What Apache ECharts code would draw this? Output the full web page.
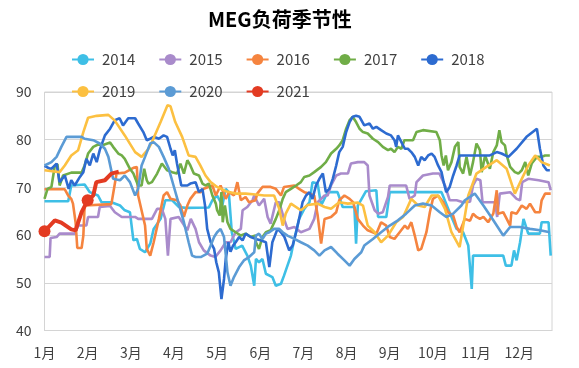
<!DOCTYPE html>
<html><head><meta charset="utf-8">
<script src="https://cdn.jsdelivr.net/npm/echarts@6/dist/echarts.min.js"></script>
<style>html,body{margin:0;padding:0;background:#fff}#c{width:579px;height:368px}</style>
</head><body><div id="c"></div>
<script>
// x = month position (0 = 1月1日), y = load rate (%)
var monthLabels = ['1月','2月','3月','4月','5月','6月','7月','8月','9月','10月','11月','12月'];
var years = ['2014','2015','2016','2017','2018','2019','2020','2021'];
var colors = ['#3ebfe6','#a98bcb','#f5843f','#70ad47','#2d6bd0','#fcc041','#5b9bd5','#e33b22'];

var s2014 = [[0,67.1],[0.55,67.1],[0.62,70.4],[0.93,70.6],[1.05,69],[1.24,68.3],[1.32,66.9],[1.55,66.9],[1.75,66.2],[1.86,65.2],[1.98,64.8],[2.06,58.9],[2.14,59.2],[2.21,57.1],[2.33,56.4],[2.45,58.2],[2.53,61.3],[2.69,63.4],[2.8,67.3],[2.96,67.3],[3.11,65.9],[3.27,65.7],[3.81,65.8],[3.89,67.3],[4.0,68.3],[4.12,66.2],[4.2,69.7],[4.27,69],[4.34,60.6],[4.43,57.1],[4.58,57.8],[4.7,55.7],[4.78,53.6],[4.86,49.4],[4.9,55],[4.97,54.3],[5.05,55],[5.13,51.9],[5.28,51.2],[5.36,49.4],[5.48,49.8],[5.55,51.5],[5.63,53.6],[5.71,55.7],[5.79,59.2],[5.9,63.4],[6.02,65.5],[6.14,66.9],[6.21,71.1],[6.33,70.8],[6.41,66.2],[6.56,69],[6.79,69],[6.91,65.9],[7.18,65.9],[7.22,58.2],[7.26,66.2],[7.45,69.2],[7.69,69.4],[7.73,63.8],[7.92,63.8],[8.0,69],[9.2,69],[9.4,64.5],[9.55,61.3],[9.7,60.6],[9.82,57.8],[9.9,48.7],[9.93,55.7],[10.63,55.7],[10.69,53.6],[10.82,53.6],[10.88,56.8],[10.94,54.7],[11.02,58.5],[11.1,63.4],[11.21,60.3],[11.48,60.3],[11.52,62.7],[11.68,62.7],[11.73,55.7]];
var s2015 = [[0,55.4],[0.12,55.4],[0.14,59.4],[0.28,59.6],[0.35,60.3],[0.7,60.3],[0.78,62],[0.97,62],[1.01,63.8],[1.24,63.8],[1.28,65.9],[1.52,66.1],[1.63,64.8],[1.79,63.8],[2.1,63.8],[2.17,63.4],[2.33,63.4],[2.49,63.4],[2.61,65.5],[2.72,65.5],[2.8,63.4],[2.86,55.7],[2.92,63.4],[3.11,63.8],[3.19,62.7],[3.31,61],[3.39,63.4],[3.5,61.3],[3.58,58.5],[3.69,56.8],[3.85,55.7],[3.96,55.4],[4.08,56.8],[4.2,58.5],[4.31,58.5],[4.43,60.6],[4.55,61.3],[4.59,65.2],[4.7,65.9],[4.82,67.3],[4.86,68.3],[4.97,66.2],[5.09,67.6],[5.17,63.8],[5.24,62.4],[5.36,66.9],[5.44,66.9],[5.55,63.4],[5.63,61.3],[5.79,61.7],[5.94,60.6],[6.14,61.3],[6.25,63.4],[6.33,66.9],[6.49,68.3],[6.56,68.3],[6.64,70.4],[6.76,72.5],[6.87,72.9],[7.03,72.9],[7.1,75],[7.26,75.3],[7.41,75.3],[7.49,74.6],[7.53,68.3],[7.65,65.2],[7.73,64.5],[7.84,64.8],[7.96,68],[8.0,70.4],[8.38,70.4],[8.46,67.6],[8.58,68.3],[8.62,71.1],[8.77,72.5],[9.0,72.9],[9.15,72.9],[9.28,70.4],[9.39,67.3],[9.55,67.3],[9.7,66.9],[9.86,67],[9.93,70.4],[10.01,71.8],[10.1,71.5],[10.15,66.9],[10.44,66.9],[10.49,63.8],[10.55,68.7],[10.79,69],[10.94,67.6],[11.02,67.3],[11.07,71.1],[11.21,71.8],[11.45,71.5],[11.68,71.1],[11.73,69.4]];
var s2016 = [[0,69.6],[0.47,69.6],[0.55,68.3],[0.62,67.6],[0.66,66.6],[0.72,62.7],[0.76,57.3],[0.86,57.3],[0.9,59.9],[0.93,66.2],[1.55,66.5],[1.67,72.9],[1.86,73.1],[2.06,74.1],[2.14,74.3],[2.17,68.3],[2.33,62],[2.37,57.1],[2.45,55.7],[2.53,58.5],[2.65,63.4],[2.76,68.3],[2.84,69],[2.92,67.6],[3.07,67.3],[3.15,66.2],[3.23,63.8],[3.31,66.2],[3.38,67.6],[3.5,69],[3.62,69],[3.69,69.7],[3.89,70.4],[3.97,68.3],[4.08,70.4],[4.2,67.6],[4.28,69],[4.39,68.3],[4.47,71.1],[4.55,67.3],[4.66,68],[4.74,66.9],[4.89,67.3],[4.93,68.7],[5.05,70.1],[5.24,70.1],[5.36,69.7],[5.48,68.3],[5.55,70.1],[5.79,70.4],[5.9,69.7],[6.02,69],[6.14,68.7],[6.25,68.3],[6.33,64.1],[6.41,58.2],[6.49,63.4],[6.64,63.8],[6.76,64.8],[6.83,67.3],[6.95,68.3],[7.07,67.6],[7.15,66.9],[7.26,63.4],[7.38,62],[7.49,61],[7.69,60.3],[7.8,62.7],[7.92,62],[8.0,59.6],[8.11,59.2],[8.23,60.6],[8.35,62],[8.42,61.3],[8.5,62.7],[8.58,59.9],[8.66,56.8],[8.73,57.1],[8.85,60.6],[8.93,64.8],[9.0,67.6],[9.12,68.3],[9.24,66.9],[9.35,64.8],[9.47,64.1],[9.55,61.7],[9.62,60.6],[9.74,63.4],[9.86,63],[9.93,64.5],[10.01,63.8],[10.09,63.4],[10.17,63.8],[10.28,62.7],[10.4,64.5],[10.48,69.4],[10.51,64.5],[10.63,64.8],[10.71,63.4],[10.79,62],[10.82,64.8],[10.94,64.5],[11.06,66.2],[11.17,65.5],[11.25,66.6],[11.37,64.8],[11.48,64.8],[11.52,67.3],[11.6,68.7],[11.73,68.7]];
var s2017 = [[0,67.6],[0.07,69.7],[0.16,70.1],[0.24,74.6],[0.3,74.9],[0.35,70.4],[0.43,72.5],[0.62,73.1],[0.86,73.1],[0.93,74.6],[1.01,77.1],[1.13,78.5],[1.24,79],[1.36,78.9],[1.52,79.4],[1.59,78.5],[1.71,77.1],[1.79,76.7],[1.86,76],[1.98,73.9],[2.06,72.9],[2.17,70.4],[2.25,70.4],[2.31,73.9],[2.37,71.5],[2.41,70.8],[2.49,71.1],[2.61,72.9],[2.72,75],[2.84,73.6],[2.96,73.2],[3.07,72.9],[3.15,75],[3.23,72.9],[3.31,75.7],[3.38,74.6],[3.46,72.9],[3.58,72.5],[3.66,70.8],[3.73,70.4],[3.81,70.8],[3.89,68.3],[3.97,66.6],[4.0,65.2],[4.06,64.1],[4.1,69],[4.13,62.7],[4.18,66.2],[4.24,62.7],[4.31,61.3],[4.43,60.6],[4.55,59.9],[4.66,60.3],[4.78,59.6],[4.89,59.9],[4.9,58.5],[4.97,57.1],[5.05,59.6],[5.13,60.6],[5.24,61],[5.36,63.4],[5.44,65.2],[5.52,67.6],[5.59,69],[5.71,69.7],[5.83,70.4],[5.94,71.1],[6.02,72.2],[6.14,72.5],[6.25,73.2],[6.41,74.3],[6.52,75.3],[6.64,77.1],[6.76,78.1],[6.83,78.8],[6.91,79.9],[6.99,82.3],[7.07,84.1],[7.14,84.8],[7.22,83.7],[7.3,82.3],[7.38,81.6],[7.49,81.3],[7.61,80.2],[7.73,79.5],[7.84,78.5],[7.96,77.8],[8.03,78.1],[8.11,77.4],[8.19,78.5],[8.27,78.1],[8.34,79.9],[8.54,79.9],[8.62,81.6],[8.77,82],[9.08,81.6],[9.16,79.9],[9.2,76.7],[9.25,74.6],[9.3,76.7],[9.35,73.6],[9.43,75.3],[9.51,78.5],[9.59,79.5],[9.62,74.3],[9.7,72.9],[9.78,76.4],[9.86,72.5],[9.93,75.3],[10.01,79.2],[10.09,77.8],[10.13,73.2],[10.21,76.7],[10.32,73.9],[10.4,77.4],[10.48,78.8],[10.54,82],[10.59,79.5],[10.67,78.8],[10.71,76.7],[10.79,74.3],[10.9,73.2],[10.98,72.9],[11.06,73.6],[11.14,75.3],[11.21,72.5],[11.29,75],[11.41,76.4],[11.52,76.4],[11.6,76.7],[11.71,76.7]];
var s2018 = [[0,74.5],[0.15,73.8],[0.28,75],[0.35,71.1],[0.47,72.5],[0.56,69.7],[0.62,71.5],[0.7,70.4],[0.82,72.2],[0.9,73.2],[0.97,76],[1.05,74.6],[1.13,77.1],[1.21,75.3],[1.28,77.8],[1.4,80.9],[1.52,82.3],[1.63,84.1],[1.74,84.5],[1.82,83],[1.94,84.5],[2.1,84.5],[2.17,83.4],[2.29,81.6],[2.37,79.9],[2.45,80.2],[2.53,80.6],[2.65,80.2],[2.76,80.9],[2.84,80.6],[2.92,78.1],[2.97,76.7],[3.02,77.8],[3.07,75],[3.11,73.2],[3.17,70.4],[3.31,70.4],[3.38,70.8],[3.5,71.1],[3.58,69],[3.66,69.7],[3.72,66.2],[3.77,61.3],[3.85,58.5],[3.93,57.1],[3.98,54.3],[4.04,52.2],[4.1,46.6],[4.16,50.8],[4.2,55],[4.26,58.5],[4.31,56.5],[4.37,57.8],[4.43,58.5],[4.51,59.6],[4.59,58.9],[4.66,60.3],[4.78,59.6],[4.89,59.2],[5.01,58.9],[5.13,58.5],[5.21,53.3],[5.28,58.5],[5.4,61.3],[5.48,60.6],[5.56,59.6],[5.67,56.8],[5.75,57.8],[5.83,60.6],[5.9,63.4],[5.98,66.9],[6.06,68.3],[6.14,69],[6.21,67.6],[6.29,70.4],[6.37,71.8],[6.45,72.9],[6.52,69],[6.6,69.7],[6.68,71.8],[6.76,74.6],[6.83,77.4],[6.91,78.5],[6.99,81.6],[7.07,83.7],[7.14,84.8],[7.22,85],[7.3,84.8],[7.41,83],[7.53,83.4],[7.61,82.3],[7.69,82.7],[7.8,82],[7.92,81.3],[8.03,80.9],[8.11,79.9],[8.15,78.5],[8.19,80.9],[8.27,79.5],[8.35,78.1],[8.42,78.1],[8.5,77.4],[8.58,76.4],[8.66,74.6],[8.73,76.4],[8.81,75.7],[8.89,76.7],[8.97,77.1],[9.04,76.4],[9.12,74.6],[9.2,73.2],[9.25,71.1],[9.31,69],[9.39,70.1],[9.47,72.5],[9.55,74.6],[9.62,76.7],[10.32,76.7],[10.48,77.4],[10.59,77.1],[10.75,76.4],[10.94,78.1],[11.17,80.6],[11.41,82.3],[11.48,78.1],[11.56,74.6],[11.64,73.6],[11.71,73.6]];
var s2019 = [[0,73.6],[0.35,73.2],[0.47,74.6],[0.62,76.7],[0.78,77.8],[0.9,81.6],[1.01,84.6],[1.21,85],[1.48,85.2],[1.63,84],[1.86,80.9],[2.1,77.4],[2.25,76.4],[2.41,78.1],[2.49,79.5],[2.69,83.7],[2.85,87.2],[2.92,87],[3.03,83.7],[3.19,80.6],[3.34,76.7],[3.5,76.4],[3.61,74.6],[3.73,72.5],[3.85,71.1],[4.0,70.1],[4.2,69.2],[4.43,68.7],[4.66,68.7],[4.89,68.5],[5.09,68.3],[5.32,68.3],[5.44,65.5],[5.52,62],[5.59,64.5],[5.71,66.6],[5.94,65.2],[6.1,66.3],[6.33,66.6],[6.49,65.9],[6.64,65.5],[6.83,66.9],[7.03,66.6],[7.26,66.8],[7.38,66.2],[7.49,62],[7.65,60.6],[7.8,58.5],[7.96,59.9],[8.15,62.7],[8.31,63.8],[8.5,67.6],[8.66,66.2],[8.81,65.9],[8.97,68.3],[9.12,68.3],[9.28,65.5],[9.43,60.6],[9.62,57.5],[9.82,68.3],[10.01,72.9],[10.24,74.3],[10.48,75.7],[10.71,73.9],[10.9,68.7],[11.06,71.8],[11.21,74.6],[11.37,76.7],[11.52,75.3],[11.71,74.6]];
var s2020 = [[0,74.6],[0.16,75.3],[0.28,76.4],[0.39,78.5],[0.51,80.6],[0.86,80.6],[0.93,80.2],[1.13,79.9],[1.28,79.2],[1.4,78.1],[1.48,76.4],[1.59,71.8],[1.75,71.5],[1.86,72.5],[1.98,71.1],[2.1,68.3],[2.17,69.7],[2.25,74.6],[2.33,76.4],[2.45,79.2],[2.53,79.5],[2.65,78.5],[2.76,76.4],[2.88,73.9],[2.99,70.4],[3.11,66.6],[3.23,62.7],[3.34,58.5],[3.42,55.7],[3.5,55.4],[3.62,55.4],[3.77,56.1],[3.85,57.8],[3.93,59.6],[4.0,60.6],[4.08,61.3],[4.16,59.6],[4.24,52.2],[4.31,49.4],[4.39,51.2],[4.51,53.3],[4.62,54.7],[4.74,55.4],[4.86,56.4],[4.9,59.9],[4.97,60.3],[5.05,59.2],[5.13,60.3],[5.21,60.6],[5.32,61.3],[5.44,61.3],[5.52,60.6],[5.63,59.9],[5.79,59.2],[5.94,58.5],[6.1,57.8],[6.25,56.8],[6.37,55.7],[6.49,56.8],[6.64,57.5],[6.79,56.1],[6.95,54.7],[7.07,53.6],[7.18,55],[7.34,56.4],[7.41,57.8],[7.61,59.2],[7.8,60.6],[8.0,62],[8.19,63.1],[8.38,64.5],[8.58,66.2],[8.77,66.6],[8.97,66.2],[9.16,64.8],[9.31,63.8],[9.47,64.5],[9.66,66.2],[9.74,67.3],[9.97,68.7],[10.17,66.2],[10.4,63.1],[10.63,59.9],[10.79,61.7],[11.02,61.7],[11.25,61.3],[11.48,61],[11.71,60.6]];
var s2021 = [[0,60.8],[0.24,63.1],[0.39,62.6],[0.62,61.2],[0.72,61],[0.86,64.8],[1.0,67.3],[1.13,68.3],[1.2,71.1],[1.4,71.5],[1.55,72.9],[1.72,73.3]];
var markedPoints2021 = [0, 6];

var seriesData = [s2014, s2015, s2016, s2017, s2018, s2019, s2020, s2021];

var chart = echarts.init(document.getElementById('c'));
var font = '"Noto Sans CJK SC","Noto Sans",sans-serif';
var series = years.map(function (y, i) {
  var isLast = i === years.length - 1;
  var data = seriesData[i].map(function (p, k) {
    if (isLast && markedPoints2021.indexOf(k) >= 0) {
      return { value: p, symbol: 'circle', symbolSize: 12 };
    }
    return { value: p };
  });
  return {
    name: y, type: 'line', data: data,
    symbol: 'none', showSymbol: isLast, symbolSize: 12,
    color: colors[i],
    lineStyle: { width: isLast ? 4 : 2.6, color: colors[i] },
    itemStyle: { color: colors[i] },
    z: 2 + i
  };
});

var legendCommon = {
  left: 66, itemWidth: 22, itemHeight: 14, itemGap: 23,
  textStyle: { fontSize: 15, color: '#404040', fontFamily: font, padding: [0, 0, 0, 3] }
};
chart.setOption({
  animation: false,
  title: {
    text: 'MEG负荷季节性', left: 203, top: 4,
    textStyle: { fontSize: 20, fontWeight: 'bold', color: '#000', fontFamily: font }
  },
  legend: [
    Object.assign({ top: 47, data: years.slice(0, 5) }, legendCommon),
    Object.assign({ top: 79, data: years.slice(5) }, legendCommon)
  ],
  grid: { left: 44.5, right: 27, top: 92, bottom: 37.5, show: true, borderColor: '#d4d4d4', borderWidth: 1 },
  xAxis: {
    type: 'value', min: 0, max: 11.76, interval: 1,
    axisLine: { show: true, lineStyle: { color: '#d4d4d4' } },
    axisTick: { show: false },
    splitLine: { show: false },
    axisLabel: {
      margin: 15, fontSize: 14, color: '#404040', fontFamily: font,
      formatter: function (v) { return (Math.abs(v - Math.round(v)) < 1e-6 && v < 12) ? monthLabels[Math.round(v)] : ''; }
    }
  },
  yAxis: {
    type: 'value', min: 40, max: 90, interval: 10,
    axisLine: { show: false }, axisTick: { show: false },
    splitLine: { lineStyle: { color: '#d4d4d4', width: 1 } },
    axisLabel: { margin: 13, fontSize: 14, color: '#404040', fontFamily: font }
  },
  series: series
});
</script></body></html>
